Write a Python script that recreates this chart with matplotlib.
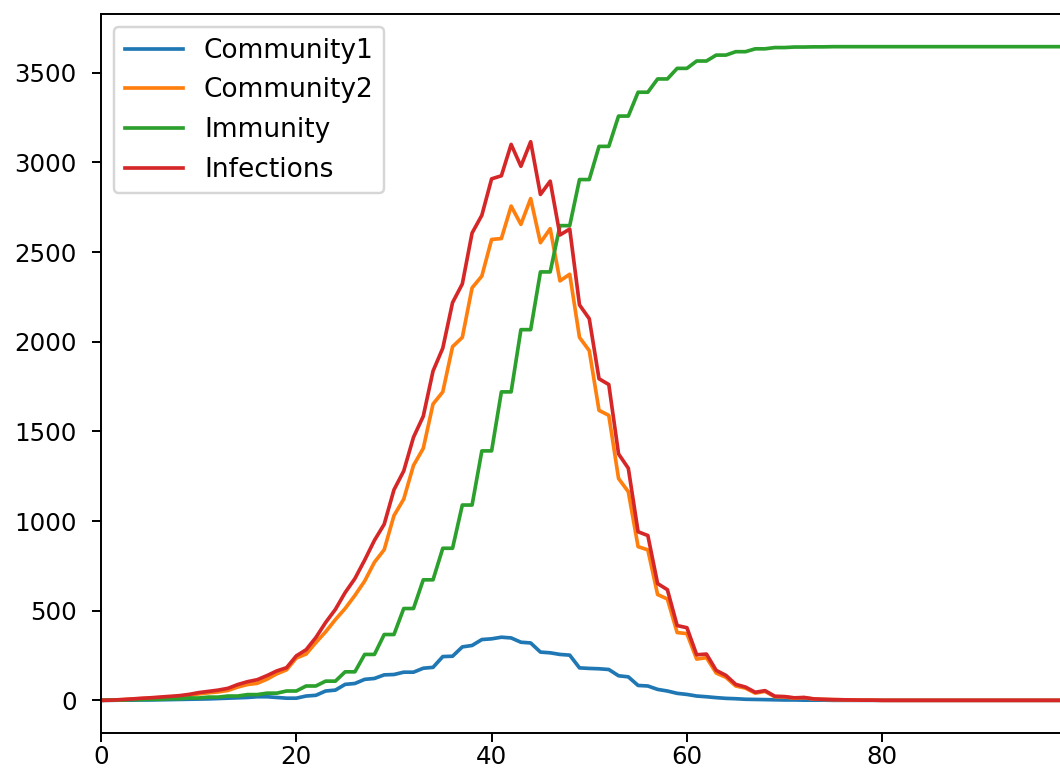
import numpy as np
import matplotlib.pyplot as plt


DPI = 176

# daily counts, one value per step
community1 = [
    0, 0, 1, 1, 2, 2, 3, 4, 5, 6,
    7, 8, 10, 12, 14, 16, 20, 20, 16, 12,
    12, 24, 28, 52, 57, 89, 94, 117, 122, 142,
    144, 157, 157, 179, 184, 244, 246, 298, 306, 339,
    343, 352, 348, 324, 320, 269, 265, 256, 252, 181,
    178, 176, 172, 137, 131, 83, 80, 61, 52, 39,
    33, 24, 20, 15, 11, 9, 6, 5, 4, 3,
    2, 2, 1, 1, 1, 0, 0, 0, 0, 0,
    0, 0, 0, 0, 0, 0, 0, 0, 0, 0,
    0, 0, 0, 0, 0, 0, 0, 0, 0, 0,
]

community2 = [
    0, 1, 3, 6, 9, 12, 15, 18, 21, 27,
    36, 42, 47, 55, 74, 88, 95, 118, 148, 170,
    236, 258, 322, 382, 450, 512, 585, 665, 770, 840,
    1030, 1122, 1310, 1405, 1652, 1720, 1972, 2024, 2300, 2366,
    2570, 2575, 2756, 2654, 2798, 2552, 2630, 2339, 2376, 2024,
    1950, 1617, 1589, 1237, 1163, 857, 839, 590, 565, 378,
    372, 230, 238, 152, 128, 80, 68, 40, 50, 20,
    19, 12, 15, 7, 5, 4, 3, 2, 1, 1,
    0, 0, 0, 0, 0, 0, 0, 0, 0, 0,
    0, 0, 0, 0, 0, 0, 0, 0, 0, 0,
]

immunity = [
    0, 2, 2, 4, 4, 6, 6, 9, 9, 13,
    13, 18, 18, 24, 24, 32, 32, 40, 40, 52,
    52, 80, 80, 107, 107, 159, 159, 256, 256, 367,
    367, 512, 512, 672, 672, 848, 848, 1089, 1089, 1391,
    1391, 1720, 1720, 2067, 2067, 2389, 2389, 2647, 2647, 2904,
    2904, 3089, 3089, 3258, 3258, 3391, 3391, 3465, 3465, 3524,
    3524, 3565, 3565, 3598, 3598, 3617, 3617, 3633, 3633, 3640,
    3640, 3643, 3643, 3644, 3644, 3645, 3645, 3645, 3645, 3645,
    3645, 3645, 3645, 3645, 3645, 3645, 3645, 3645, 3645, 3645,
    3645, 3645, 3645, 3645, 3645, 3645, 3645, 3645, 3645, 3645,
]

infections = [
    0, 1, 4, 7, 11, 14, 18, 22, 26, 33,
    43, 50, 57, 67, 88, 104, 115, 138, 164, 182,
    248, 282, 350, 434, 507, 601, 679, 782, 892, 982,
    1174, 1279, 1467, 1584, 1836, 1964, 2218, 2322, 2606, 2705,
    2908, 2925, 3100, 2978, 3115, 2821, 2895, 2595, 2628, 2205,
    2128, 1793, 1761, 1374, 1294, 940, 919, 651, 617, 417,
    405, 254, 258, 167, 139, 89, 74, 45, 54, 23,
    21, 14, 16, 8, 6, 4, 3, 2, 1, 1,
    0, 0, 0, 0, 0, 0, 0, 0, 0, 0,
    0, 0, 0, 0, 0, 0, 0, 0, 0, 0,
]

days = np.arange(len(infections))

fig = plt.figure(figsize=(1060 / DPI, 777 / DPI), dpi=DPI)
# axes run slightly past the right edge of the canvas
ax = fig.add_axes([0.0953, 0.0566, 0.912, 0.9254])

ax.plot(days, community1, label="Community1")
ax.plot(days, community2, label="Community2")
ax.plot(days, immunity, label="Immunity")
ax.plot(days, infections, label="Infections")

ax.set_xlim(0, 99)
ax.set_xticks([0, 20, 40, 60, 80])
ax.tick_params(axis="both", labelsize=10)
ax.tick_params(axis="x", pad=1.5)
ax.tick_params(axis="y", pad=6.5)
ax.legend(loc="upper left", fontsize=10.8, handlelength=2.2, labelspacing=0.52)

fig.savefig("out.png", dpi=DPI)
